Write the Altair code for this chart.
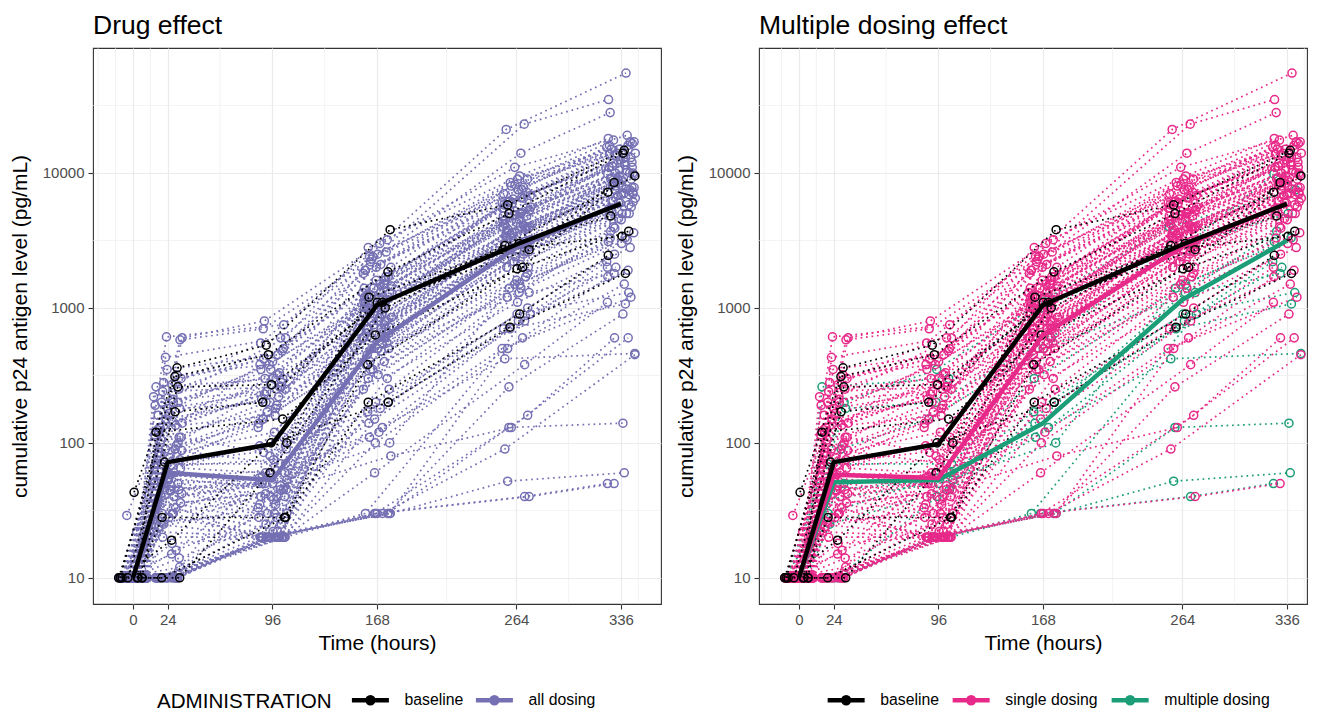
import altair as alt
import pandas as pd

# ---------------- data ----------------
TIMES = [0, 24, 96, 168, 264, 336]

# per-subject cumulative p24 (pg/mL) at 0, 24, 96, 168, 264, 336 h
BASELINE = [
    [43, 360, 530, 3800, 5800, 14700],
    [10, 310, 450, 1850, 5000, 14000],
    [10, 260, 270, 1100, 2900, 9500],
    [10, 170, 200, 1100, 2700, 8500],
    [10, 120, 150, 630, 2000, 7200],
    [10, 72, 100, 1200, 3000, 4800],
    [10, 28, 28, 380, 1950, 3700],
    [10, 19, 100, 200, 720, 1800],
    [10, 10, 60, 1000, 2700, 3400],
    [10, 10, 28, 200, 900, 2450],
]

MULTIPLE = [
    [10, 10, 20, 30, 40, 50],
    [10, 10, 20, 30, 52, 60],
    [10, 10, 20, 30, 130, 140],
    [10, 50, 55, 130, 420, 460],
    [10, 90, 150, 500, 1300, 1800],
    [10, 260, 300, 1000, 3000, 9800],
    [10, 45, 53, 140, 1300, 3700],
    [10, 30, 60, 170, 900, 1300],
    [10, 10, 40, 200, 700, 1070],
    [10, 180, 200, 600, 2600, 5000],
    [10, 70, 70, 300, 1500, 3100],
    [10, 25, 45, 110, 800, 2200],
    [10, 10, 20, 30, 900, 2000],
    [10, 38, 50, 100, 1400, 3300],
    [10, 200, 350, 1200, 4000, 7500],
]

SINGLE = [
    [10, 600, 800, 3000, 21000, 55000],
    [10, 580, 700, 2500, 23000, 35000],
    [22, 610, 750, 2200, 14000, 28000],
    [10, 430, 600, 1800, 9000, 17000],
    [29, 300, 420, 1500, 7000, 16000],
    [10, 250, 300, 1200, 6000, 13000],
    [10, 200, 350, 2000, 8000, 15000],
    [10, 180, 250, 900, 5000, 11000],
    [10, 150, 220, 1100, 4000, 9000],
    [10, 130, 160, 700, 3500, 8000],
    [10, 120, 300, 1600, 5500, 12000],
    [10, 110, 200, 900, 4500, 10000],
    [10, 95, 140, 800, 3800, 7500],
    [10, 85, 180, 1400, 6500, 14000],
    [10, 80, 120, 600, 3000, 6000],
    [10, 70, 90, 500, 2500, 5500],
    [10, 65, 60, 1000, 4200, 9000],
    [10, 60, 55, 700, 3000, 6500],
    [10, 58, 50, 900, 3300, 7000],
    [10, 55, 45, 1200, 5000, 10500],
    [10, 52, 40, 650, 2800, 6000],
    [10, 50, 38, 800, 3500, 7800],
    [10, 48, 35, 1500, 6000, 12000],
    [10, 45, 33, 550, 2400, 5000],
    [10, 42, 30, 400, 2000, 4500],
    [10, 40, 28, 1100, 4800, 9500],
    [10, 38, 25, 750, 3200, 6200],
    [10, 35, 22, 600, 2600, 5200],
    [10, 33, 20, 1300, 5200, 11000],
    [10, 30, 20, 500, 2200, 5000],
    [10, 28, 20, 950, 4000, 8200],
    [10, 25, 20, 350, 1800, 4000],
    [10, 22, 20, 2000, 7500, 16000],
    [10, 20, 20, 450, 1600, 3600],
    [10, 18, 20, 300, 1500, 3200],
    [10, 10, 20, 850, 3800, 7000],
    [10, 10, 20, 250, 1200, 3000],
    [10, 10, 20, 200, 1000, 2500],
    [10, 10, 20, 150, 800, 2000],
    [10, 10, 20, 30, 500, 1500],
    [10, 10, 20, 30, 260, 900],
    [10, 10, 20, 30, 90, 450],
    [10, 10, 20, 30, 40, 50],
    [10, 10, 20, 100, 600, 1700],
    [10, 10, 30, 1000, 4500, 9000],
    [10, 10, 40, 700, 2700, 5800],
    [10, 15, 60, 1700, 6200, 13000],
    [10, 12, 80, 1100, 4400, 8800],
    [10, 200, 600, 2800, 9500, 18000],
    [10, 280, 500, 2400, 7500, 15500],
    [10, 350, 450, 1900, 6800, 13500],
    [10, 160, 400, 1300, 5400, 11500],
    [10, 100, 270, 1000, 4800, 10000],
    [10, 140, 230, 850, 3600, 7600],
    [10, 75, 150, 500, 2600, 5400],
    [10, 62, 110, 350, 1400, 3300],
    [10, 90, 70, 250, 1100, 2800],
    [10, 110, 85, 180, 700, 1900],
    [10, 45, 50, 120, 500, 1200],
    [10, 30, 40, 80, 130, 600],
    [10, 10, 20, 400, 2100, 4800],
    [10, 10, 20, 600, 3100, 6800],
    [10, 10, 20, 1200, 5100, 10000],
    [10, 10, 22, 1500, 5800, 11500],
    [10, 14, 25, 700, 3400, 7200],
    [10, 16, 28, 320, 1700, 3900],
    [10, 24, 35, 900, 4100, 8600],
    [10, 26, 30, 1300, 5500, 12500],
    [10, 34, 45, 2300, 7800, 15000],
    [10, 36, 42, 480, 2300, 5600],
    [10, 40, 50, 1700, 6400, 14000],
    [10, 44, 56, 550, 2700, 6100],
    [10, 53, 48, 1000, 4000, 8400],
    [10, 56, 62, 380, 2000, 4600],
    [10, 66, 75, 2600, 8500, 17000],
    [10, 68, 95, 750, 3600, 7800],
    [10, 78, 130, 1150, 4900, 10500],
    [10, 88, 170, 600, 3300, 7000],
    [10, 105, 190, 1900, 7200, 15000],
    [10, 115, 260, 1400, 5600, 11800],
    [10, 125, 320, 800, 3900, 9200],
    [10, 135, 380, 2100, 8200, 16500],
    [10, 145, 210, 650, 3100, 6900],
    [10, 165, 280, 1250, 5300, 11200],
    [10, 190, 330, 2400, 9000, 17500],
    [10, 220, 480, 1600, 6600, 13800],
    [10, 240, 260, 1000, 4300, 9700],
    [10, 270, 550, 3200, 11000, 19000],
    [10, 320, 380, 1450, 6100, 12800],
    [10, 210, 240, 720, 3700, 8100],
    [10, 10, 20, 30, 160, 600],
    [10, 10, 20, 60, 380, 1100],
]

# medians drawn as thick lines
MED_BASELINE = [10, 72, 98, 1050, 2950, 5900]
MED_ALL = [10, 60, 53, 560, 2800, 6000]
MED_SINGLE = [10, 58, 55, 630, 2850, 6000]
MED_MULTIPLE = [10, 51, 53, 140, 1150, 3150]

# horizontal jitter offsets (hours)
JITTER = [3.1, -7.4, 8.2, -1.6, 5.7, -9.3, 0.8, 6.4, -4.2, 9.1, -6.0, 2.3, -8.7,
          4.9, -2.8, 7.6, -5.1, 1.4, -9.8, 6.9, -0.5, 3.8, -7.9, 9.6, -3.5, 5.0,
          -6.6, 0.2, 8.8, -4.7, 2.9, -8.1, 7.1, -1.1, 4.3, -9.0, 6.1, -2.2, 9.9,
          -5.5, 1.9, -7.0, 3.5, -3.9, 8.4, -6.3, 0.5, 5.4, -8.5, 2.6, -0.9, 7.8, -4.4]

X_MINOR = [-24, -12, 12, 60, 132, 216, 300, 348]
Y_TICKS = [10, 100, 1000, 10000]
Y_MINOR = [31.6, 316, 3162, 31623]

LEFT_DOMAIN = ["baseline", "all dosing"]
LEFT_RANGE = ["#000000", "#7570B3"]
RIGHT_DOMAIN = ["baseline", "single dosing", "multiple dosing"]
RIGHT_RANGE = ["#000000", "#E7298A", "#1B9E77"]

# ---------------- tables ----------------
rows = []
sid = 0
for grp, subjects in [("multiple dosing", MULTIPLE), ("single dosing", SINGLE), ("baseline", BASELINE)]:
    for vals in subjects:
        for k, (t, v) in enumerate(zip(TIMES, vals)):
            rows.append({
                "subject": sid, "group": grp,
                "left": "baseline" if grp == "baseline" else "all dosing",
                "order": k, "hours": t + JITTER[(sid * 6 + k) % len(JITTER)], "value": v,
            })
        sid += 1
df = pd.DataFrame(rows)


def med_df(vals, grp):
    return pd.DataFrame({"hours": TIMES, "value": vals, "left": grp, "group": grp, "order": range(6)})


FONT = "Liberation Sans"
H = 556
PX_PER_HOUR = 568 / 391.1

yscale = alt.Scale(type="log", domain=[6.4, 84300], nice=False)

KEY_PATH = "M-3.7,0H3.7M-0.6,0A0.6,0.6,0,1,1,0.6,0A0.6,0.6,0,1,1,-0.6,0"


def color_enc(field, domain, rng, legend_x, title, col_pad):
    kw = dict(orient="none", legendX=legend_x, legendY=644.25, direction="horizontal",
              symbolType=KEY_PATH, symbolSize=100, symbolStrokeWidth=4.5,
              labelFontSize=15.8, labelColor="#000000", labelOffset=26.25, columnPadding=col_pad,
              padding=0, labelFont=FONT)
    if title:
        kw.update(title=title, titleOrient="left", titleFontSize=20.6, titleFontWeight="normal",
                  titleColor="#000000", titlePadding=30.5, titleFont=FONT,
                  titleAnchor="middle", titleBaseline="middle")
    else:
        kw.update(title=None)
    return alt.Color(f"{field}:N", scale=alt.Scale(domain=domain, range=rng), legend=alt.Legend(**kw))


def panel(title, width, field, domain, rng, layers_groups, medians, legend_x, legend_title, col_pad):
    xscale = alt.Scale(domain=[-27.5, -27.5 + width / PX_PER_HOUR], nice=False, zero=False)
    xaxis = alt.Axis(values=TIMES, title="Time (hours)", grid=True, gridColor="#EBEBEB", gridWidth=1.2,
                     domain=False, tickColor="#333333", tickSize=5, tickWidth=1.1,
                     labelFontSize=15, labelColor="#4D4D4D", labelPadding=3, labelFlush=False,
                     titleFontSize=21, titleFontWeight="normal", titleColor="#000000", titlePadding=5,
                     titleX=(391.1 / 2) * PX_PER_HOUR)
    yaxis = alt.Axis(values=Y_TICKS, format="d", title="cumulative p24 antigen level (pg/mL)",
                     grid=True, gridColor="#EBEBEB", gridWidth=1.2, domain=False,
                     tickColor="#333333", tickSize=5, tickWidth=1.1,
                     labelFontSize=15, labelColor="#4D4D4D", labelPadding=4,
                     titleFontSize=21, titleFontWeight="normal", titleColor="#000000", titlePadding=12)
    X = alt.X("hours:Q", scale=xscale, axis=xaxis)
    Y = alt.Y("value:Q", scale=yscale, axis=yaxis)
    col = color_enc(field, domain, rng, legend_x, legend_title, col_pad)
    grid_x = alt.Chart(pd.DataFrame({"hours": X_MINOR})).mark_rule(
        color="#EBEBEB", strokeWidth=0.6, clip=True).encode(x=X)
    grid_y = alt.Chart(pd.DataFrame({"value": Y_MINOR})).mark_rule(
        color="#EBEBEB", strokeWidth=0.6).encode(y=Y)
    layers = [grid_x, grid_y]
    for grp in layers_groups:
        sub = df[df["group"].isin(grp)]
        base = alt.Chart(sub)
        layers.append(base.mark_line(strokeWidth=1.7, strokeDash=[1.7, 3.8], clip=True).encode(
            x=X, y=Y, color=col, detail="subject:N", order="order:Q"))
        layers.append(base.mark_point(shape="circle", filled=False, size=65, strokeWidth=1.5,
                                      opacity=1, clip=True).encode(x=X, y=Y, color=col))
    for m in medians:
        layers.append(alt.Chart(m).mark_line(strokeWidth=4.5, strokeJoin="round", clip=True).encode(
            x=X, y=Y, color=col, order="order:Q"))
    return alt.layer(*layers).properties(
        width=width, height=H,
        title=alt.TitleParams(title, anchor="start", frame="group", fontSize=26.5, fontWeight="normal",
                              color="#000000", font=FONT, offset=9))


left = panel("Drug effect", 568, "left", LEFT_DOMAIN, LEFT_RANGE,
             [["multiple dosing", "single dosing"], ["baseline"]],
             [med_df(MED_ALL, "all dosing"), med_df(MED_BASELINE, "baseline")],
             64, "ADMINISTRATION", 3)

right = panel("Multiple dosing effect", 548, "group", RIGHT_DOMAIN, RIGHT_RANGE,
              [["multiple dosing"], ["single dosing"], ["baseline"]],
              [med_df(MED_MULTIPLE, "multiple dosing"), med_df(MED_SINGLE, "single dosing"),
               med_df(MED_BASELINE, "baseline")],
              79.25, None, 4)

chart = alt.hconcat(left, right, spacing=12).resolve_scale(
    color="independent", x="independent", y="independent"
).properties(
    padding={"left": 0, "top": 3, "right": 0, "bottom": -2.5}
).configure(font=FONT).configure_view(stroke="#333333", strokeWidth=1.1)

chart.save("out.html", embed_options={"renderer": "svg", "actions": False})
